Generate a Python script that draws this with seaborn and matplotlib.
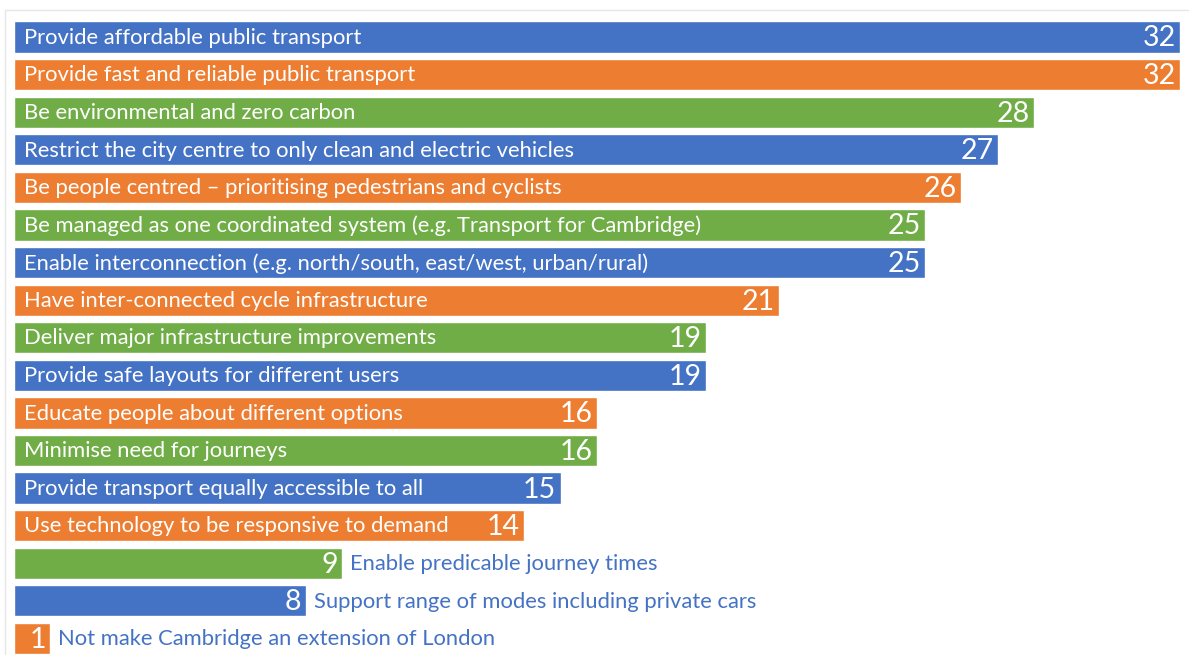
import matplotlib
matplotlib.use("Agg")
import matplotlib.pyplot as plt
import seaborn as sns
import pandas as pd
from matplotlib.patches import Rectangle

categories = [
    "Provide affordable public transport",
    "Provide fast and reliable public transport",
    "Be environmental and zero carbon",
    "Restrict the city centre to only clean and electric vehicles",
    "Be people centred \u2013 prioritising pedestrians and cyclists",
    "Be managed as one coordinated system (e.g. Transport for Cambridge)",
    "Enable interconnection (e.g. north/south, east/west, urban/rural)",
    "Have inter-connected cycle infrastructure",
    "Deliver major infrastructure improvements",
    "Provide safe layouts for different users",
    "Educate people about different options",
    "Minimise need for journeys",
    "Provide transport equally accessible to all",
    "Use technology to be responsive to demand",
    "Enable predicable journey times",
    "Support range of modes including private cars",
    "Not make Cambridge an extension of London",
]
values = [32, 32, 28, 27, 26, 25, 25, 21, 19, 19, 16, 16, 15, 14, 9, 8, 1]
color_cycle = ["#4472C4", "#ED7D31", "#70AD47"]
label_inside = [True] * 14 + [False] * 3

sns.set_theme(style="white")
plt.rcParams["font.family"] = ["Lato", "DejaVu Sans"]

df = pd.DataFrame({"cat": categories, "val": values,
                   "grp": [str(i % 3) for i in range(len(values))]})

W, H = 1189, 655
fig = plt.figure(figsize=(W / 100, H / 100), dpi=100)
left, right = 14 / W, 1180 / W
top_px, bot_px = 18, 655
ax = fig.add_axes([left, 1 - bot_px / H, right - left, (bot_px - top_px) / H])

sns.barplot(data=df, y="cat", x="val", hue="grp", orient="h", ax=ax,
            palette={"0": color_cycle[0], "1": color_cycle[1], "2": color_cycle[2]},
            dodge=False, width=0.83, legend=False, saturation=1)

ax.set_xlim(0, 32)
ax.set_ylim(16.44, -0.505)
ax.axis("off")

for i, (c, v, ins) in enumerate(zip(categories, values, label_inside)):
    ax.text(v - 0.12, i + 0.04, str(v), ha="right", va="center",
            color="white", fontsize=20.5)
    if ins:
        ax.text(0.28, i + 0.02, c, ha="left", va="center", color="white", fontsize=15.8)
    else:
        ax.text(v + 0.22, i + 0.02, c, ha="left", va="center", color="#4472C4", fontsize=15.8)

fig.patches.append(Rectangle((5 / W, -0.01), 1.02, 1 - 10 / H + 0.01,
                             transform=fig.transFigure, fill=False,
                             edgecolor="#E6E6E6", linewidth=1))

fig.savefig("out.png", dpi=100)
